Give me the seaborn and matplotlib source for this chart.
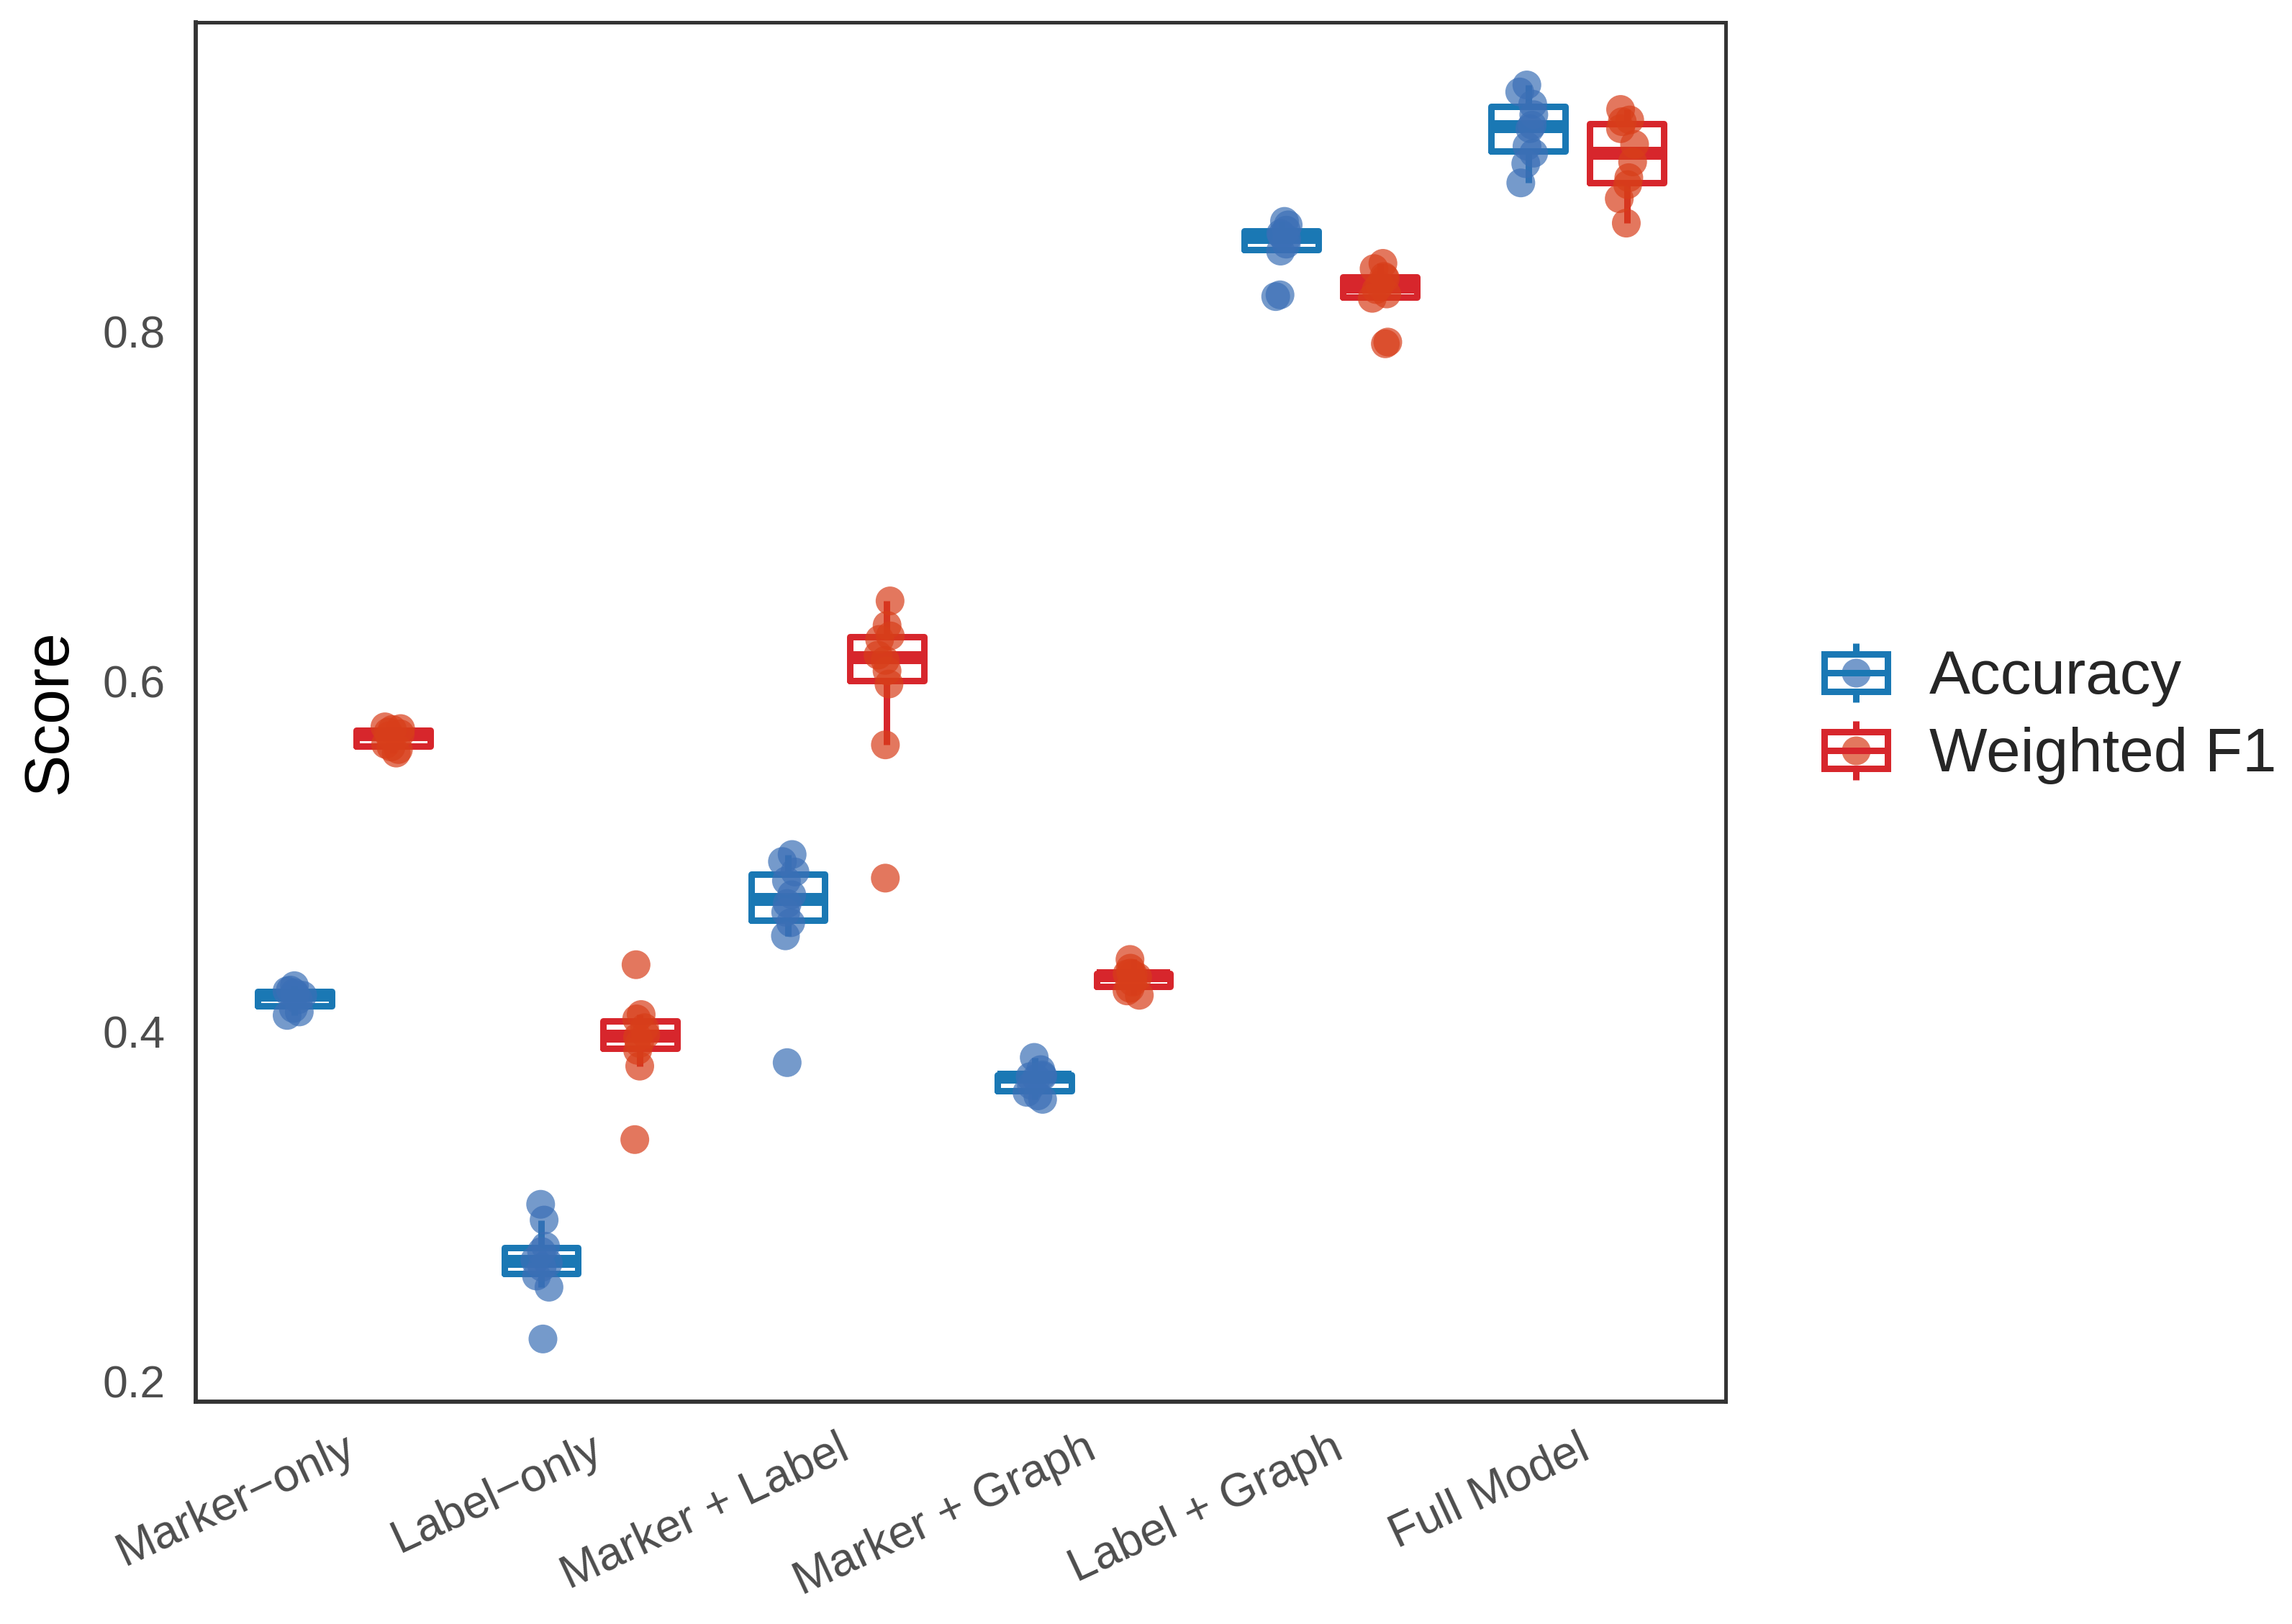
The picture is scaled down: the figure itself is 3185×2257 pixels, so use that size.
import numpy as np
import pandas as pd
import matplotlib
matplotlib.use("Agg")
import matplotlib.pyplot as plt
import seaborn as sns
from matplotlib.legend_handler import HandlerBase
from matplotlib.patches import Rectangle
from matplotlib.lines import Line2D

# ---------------- data ----------------
models = ["Marker\u2212only", "Label\u2212only", "Marker + Label",
          "Marker + Graph", "Label + Graph", "Full Model"]
metrics = ["Accuracy", "Weighted F1"]

acc_marker_only = [0.409, 0.411, 0.413, 0.418, 0.4205, 0.421, 0.422, 0.423, 0.4235, 0.426]
f1_marker_only = [0.559, 0.561, 0.5625, 0.564, 0.569, 0.570, 0.571, 0.5725, 0.573, 0.574]
acc_label_only = [0.224, 0.2536, 0.260, 0.265, 0.2675, 0.269, 0.274, 0.277, 0.292, 0.301]
f1_label_only = [0.338, 0.380, 0.389, 0.393, 0.3965, 0.398, 0.402, 0.407, 0.4095, 0.438]
acc_marker_label = [0.382, 0.4545, 0.462, 0.468, 0.473, 0.478, 0.486, 0.491, 0.497, 0.501]
f1_marker_label = [0.4875, 0.5637, 0.5985, 0.606, 0.612, 0.615, 0.624, 0.626, 0.632, 0.646]
acc_marker_graph = [0.361, 0.363, 0.365, 0.369, 0.373, 0.374, 0.3742, 0.375, 0.378, 0.385]
f1_marker_graph = [0.4205, 0.423, 0.4245, 0.428, 0.431, 0.4322, 0.4327, 0.4332, 0.436, 0.441]
acc_label_graph = [0.820, 0.821, 0.846, 0.850, 0.853, 0.855, 0.856, 0.858, 0.861, 0.863]
f1_label_graph = [0.793, 0.794, 0.819, 0.8215, 0.824, 0.8265, 0.8305, 0.8315, 0.836, 0.839]
acc_full = [0.885, 0.896, 0.902, 0.906, 0.916, 0.918, 0.924, 0.930, 0.937, 0.941]
f1_full = [0.862, 0.876, 0.884, 0.888, 0.897, 0.907, 0.916, 0.920, 0.921, 0.927]

acc_series = [acc_marker_only, acc_label_only, acc_marker_label,
              acc_marker_graph, acc_label_graph, acc_full]
f1_series = [f1_marker_only, f1_label_only, f1_marker_label,
             f1_marker_graph, f1_label_graph, f1_full]

y_ticks = [0.2, 0.4, 0.6, 0.8]

# ---------------- styling ----------------
box_colors = {"Accuracy": "#1A78B4", "Weighted F1": "#D7262C"}
point_colors = {"Accuracy": "#3B6FB6", "Weighted F1": "#D83E1A"}

rows = []
for m, a, f in zip(models, acc_series, f1_series):
    for v in a:
        rows.append((m, "Accuracy", v))
    for v in f:
        rows.append((m, "Weighted F1", v))
df = pd.DataFrame(rows, columns=["model", "metric", "score"])

sns.set_style("white")
plt.rcParams["font.family"] = ["Liberation Sans", "DejaVu Sans"]

fig, ax = plt.subplots(figsize=(3185 / 300, 2257 / 300), dpi=300)
fig.subplots_adjust(left=0.0854, right=0.7529, bottom=0.1369, top=0.9863)

LW = 2.16
sns.boxplot(data=df, x="model", y="score", hue="metric", order=models,
            hue_order=metrics, palette=box_colors, saturation=1, fill=False,
            width=0.8, gap=0.25, dodge=True, showfliers=False, showcaps=False,
            linewidth=LW, medianprops=dict(linewidth=2 * LW), whis=1.5,
            legend=False, ax=ax)

np.random.seed(7)
sns.stripplot(data=df, x="model", y="score", hue="metric", order=models,
              hue_order=metrics, palette=point_colors, dodge=True, jitter=0.07,
              size=9.6, alpha=0.7, linewidth=0, legend=False, ax=ax, zorder=3)

lo, hi = df["score"].min(), df["score"].max()
rng = hi - lo
ax.set_ylim(lo - 0.05 * rng, hi + 0.05 * rng)
ax.set_xlim(-0.6, len(models) - 0.4)
ax.set_yticks(y_ticks)
ax.set_yticklabels([f"{t:.1f}" for t in y_ticks])
ax.set_xlabel("")
ax.set_ylabel("Score", fontsize=21, color="black", va="center")
ax.yaxis.set_label_coords(-0.095, 0.5)

for s in ax.spines.values():
    s.set_visible(True)
    s.set_color("#333333")
    s.set_linewidth(1.2)
ax.spines["left"].set_linewidth(1.4)
ax.spines["bottom"].set_linewidth(1.4)

ax.tick_params(axis="both", length=5.3, width=1.2, color="#333333",
               labelcolor="#4D4D4D")
ax.tick_params(axis="y", labelsize=15, pad=4.8)
ax.tick_params(axis="x", labelsize=15.5, pad=3)
for lab in ax.get_xticklabels():
    lab.set_rotation(25)
    lab.set_ha("right")
    lab.set_va("top")
    lab.set_rotation_mode("anchor")


class BoxPointHandler(HandlerBase):
    def __init__(self, ecolor, pcolor):
        super().__init__()
        self.ecolor = ecolor
        self.pcolor = pcolor

    def create_artists(self, legend, orig_handle, xdescent, ydescent,
                       width, height, fontsize, trans):
        x0, y0 = -xdescent, -ydescent
        bh = height * 0.625
        by = y0 + (height - bh) / 2
        cx, cy = x0 + width / 2, y0 + height / 2
        pt = Line2D([cx], [cy], marker="o", markersize=9.6, color=self.pcolor,
                    alpha=0.7, linestyle="none", markeredgewidth=0,
                    transform=trans)
        rect = Rectangle((x0, by), width, bh, facecolor="none",
                         edgecolor=self.ecolor, linewidth=LW,
                         joinstyle="miter", transform=trans)
        med = Line2D([x0, x0 + width], [cy, cy], color=self.ecolor, lw=LW,
                     solid_capstyle="butt", transform=trans)
        w1 = Line2D([cx, cx], [y0, by], color=self.ecolor, lw=LW,
                    solid_capstyle="butt", transform=trans)
        w2 = Line2D([cx, cx], [by + bh, y0 + height], color=self.ecolor,
                    lw=LW, solid_capstyle="butt", transform=trans)
        return [pt, rect, med, w1, w2]


handles = [Line2D([], []) for _ in metrics]
hmap = {h: BoxPointHandler(box_colors[m], point_colors[m])
        for h, m in zip(handles, metrics)}
fig.legend(handles, metrics, handler_map=hmap, loc="center left",
           bbox_to_anchor=(0.7958, 0.5605), bbox_transform=fig.transFigure,
           frameon=False, fontsize=20.5, handlelength=1.03, handleheight=1.1,
           handletextpad=0.68, labelspacing=0.23, borderpad=0,
           borderaxespad=0)

fig.savefig("out.png", dpi=300)
